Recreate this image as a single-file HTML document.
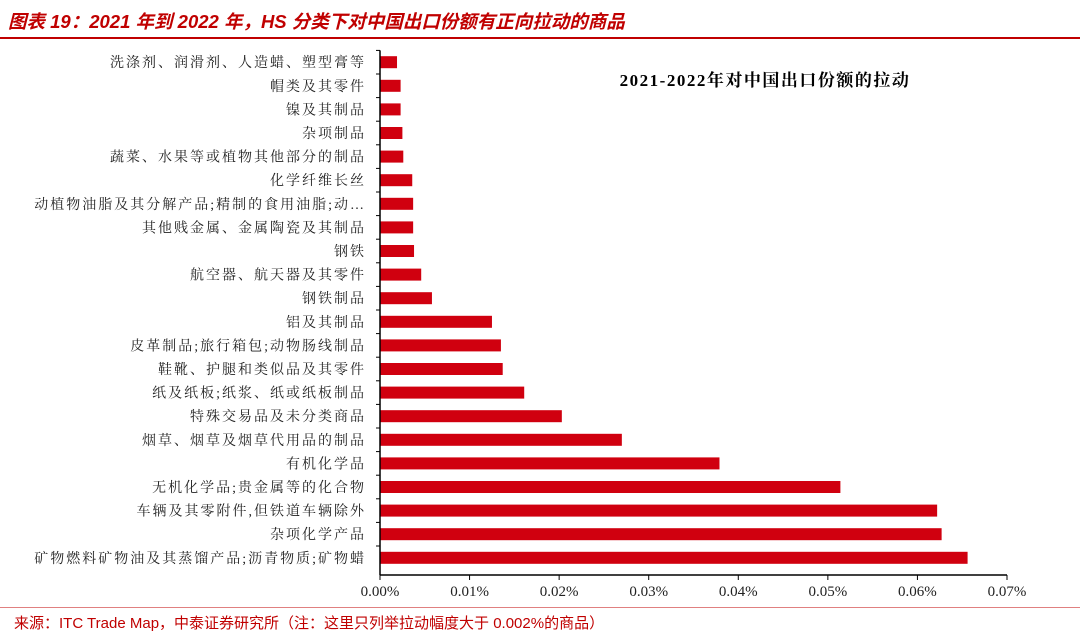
<!DOCTYPE html>
<html><head><meta charset="utf-8">
<style>
body{margin:0;width:1080px;height:635px;background:#fff;overflow:hidden;font-family:"Liberation Serif","Noto Serif CJK SC",serif;}
</style></head>
<body>
<div style="position:absolute;left:8px;top:8px;font-family:'Liberation Sans','Noto Sans CJK SC',sans-serif;font-style:italic;font-weight:bold;font-size:18.5px;color:#c00000;">图表 19：2021 年到 2022 年，HS 分类下对中国出口份额有正向拉动的商品</div>
<div style="position:absolute;left:0;top:37px;width:1080px;height:2px;background:#c00000;"></div>
<svg id="chart" width="1080" height="635" style="position:absolute;left:0;top:0"></svg>
<div style="position:absolute;left:0;top:607px;width:1080px;height:1px;background:#e08080;"></div>
<div style="position:absolute;left:14px;top:612px;font-family:'Liberation Sans','Noto Sans CJK SC',sans-serif;font-size:15px;color:#c00000;">来源：ITC Trade Map，中泰证券研究所（注：这里只列举拉动幅度大于 0.002%的商品）</div>
<script>
const categories=["洗涤剂、润滑剂、人造蜡、塑型膏等","帽类及其零件","镍及其制品","杂项制品","蔬菜、水果等或植物其他部分的制品","化学纤维长丝","动植物油脂及其分解产品;精制的食用油脂;动…","其他贱金属、金属陶瓷及其制品","钢铁","航空器、航天器及其零件","钢铁制品","铝及其制品","皮革制品;旅行箱包;动物肠线制品","鞋靴、护腿和类似品及其零件","纸及纸板;纸浆、纸或纸板制品","特殊交易品及未分类商品","烟草、烟草及烟草代用品的制品","有机化学品","无机化学品;贵金属等的化合物","车辆及其零附件,但铁道车辆除外","杂项化学产品","矿物燃料矿物油及其蒸馏产品;沥青物质;矿物蜡"];
const values=[0.0019,0.0023,0.0023,0.0025,0.0026,0.0036,0.0037,0.0037,0.0038,0.0046,0.0058,0.0125,0.0135,0.0137,0.0161,0.0203,0.0270,0.0379,0.0514,0.0622,0.0627,0.0656];
const ticks=[0,0.01,0.02,0.03,0.04,0.05,0.06,0.07];
const NS="http://www.w3.org/2000/svg";
const svg=document.getElementById('chart');
const x0=380,x1=1007,yTop=50.4,yBot=575;
const band=23.6;
const xs=v=>x0+(v/0.07)*(x1-x0);
const ys=i=>yTop+band*i+band/2;
function mk(t,a){const e=document.createElementNS(NS,t);for(const k in a)e.setAttribute(k,a[k]);svg.appendChild(e);return e;}
categories.forEach((c,i)=>{
 const r=mk('rect',{x:x0,y:ys(i)-6,width:xs(values[i])-x0,height:12,fill:'#d0000f'});
 
 
 const t=mk('text',{x:x0-14,y:ys(i)+5,'text-anchor':'end','font-size':'14','letter-spacing':'2',fill:'#222'});
 t.textContent=c;
 
 
 const tk=mk('line',{x1:x0-4,x2:x0,y1:yTop+band*i,y2:yTop+band*i,stroke:'#000'});
 
 
});
const ya=mk('line',{x1:x0,x2:x0,y1:yTop,y2:yBot,stroke:'#000','stroke-width':1.5});


const xa=mk('line',{x1:x0,x2:x1,y1:yBot,y2:yBot,stroke:'#000','stroke-width':1.5});


ticks.forEach(v=>{
 const l=mk('line',{x1:xs(v),x2:xs(v),y1:yBot,y2:yBot+5,stroke:'#000'});
 
 
 const t=mk('text',{x:xs(v),y:yBot+21,'text-anchor':'middle','font-size':'15',fill:'#222'});
 t.textContent=v.toFixed(2)+'%';
 
 
});
const lt=mk('text',{x:765,y:86,'text-anchor':'middle','font-size':'17','font-weight':'bold','letter-spacing':'1.5',fill:'#000'});
lt.textContent='2021-2022年对中国出口份额的拉动';


</script>
</body></html>
